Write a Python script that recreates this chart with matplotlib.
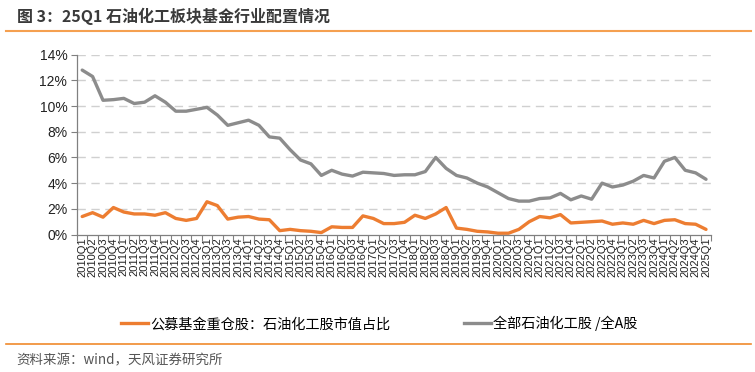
import numpy as np
import matplotlib.pyplot as plt
from matplotlib.lines import Line2D

plt.rcParams['font.family'] = ['Noto Sans CJK SC', 'DejaVu Sans']

quarters = [f"{y}Q{q}" for y in range(2010, 2025) for q in range(1, 5)] + ["2025Q1"]

# 公募基金重仓股：石油化工股市值占比 (%)
fund_share = [1.4, 1.7, 1.35, 2.1, 1.75, 1.6, 1.6, 1.5, 1.7, 1.25,
              1.1, 1.25, 2.55, 2.25, 1.2, 1.35, 1.4, 1.2, 1.15, 0.3,
              0.4, 0.3, 0.25, 0.15, 0.6, 0.55, 0.55, 1.45, 1.25, 0.85,
              0.85, 0.95, 1.5, 1.25, 1.6, 2.1, 0.5, 0.4, 0.25, 0.2,
              0.1, 0.1, 0.4, 1.0, 1.4, 1.3, 1.55, 0.9, 0.95, 1.0,
              1.05, 0.8, 0.9, 0.8, 1.1, 0.85, 1.1, 1.15, 0.85, 0.8,
              0.4]

# 全部石油化工股/全A股 (%)
market_share = [12.8, 12.3, 10.45, 10.5, 10.6, 10.2, 10.3, 10.8, 10.3, 9.6,
                9.6, 9.75, 9.9, 9.3, 8.5, 8.7, 8.9, 8.5, 7.6, 7.5,
                6.6, 5.8, 5.5, 4.6, 5.0, 4.7, 4.55, 4.85, 4.8, 4.75,
                4.6, 4.65, 4.65, 4.9, 6.0, 5.15, 4.6, 4.4, 4.0, 3.7,
                3.25, 2.8, 2.6, 2.6, 2.8, 2.85, 3.2, 2.7, 3.0, 2.75,
                4.0, 3.7, 3.85, 4.15, 4.6, 4.4, 5.7, 6.0, 5.0, 4.8,
                4.3]

orange = '#ED7D31'
gray = '#8C8C8C'

fig = plt.figure(figsize=(7.55, 3.72), dpi=100)
ax = fig.add_axes([0.102, 0.3696, 0.84, 0.4834])

x = np.arange(len(quarters))
ax.plot(x, market_share, color=gray, lw=2.4, solid_joinstyle='round', solid_capstyle='round')
ax.plot(x, fund_share, color=orange, lw=2.4, solid_joinstyle='round', solid_capstyle='round')

ax.set_xlim(-0.5, len(quarters) - 0.5)
ax.set_ylim(0, 14)
ax.set_yticks(np.arange(0, 15, 2))
ax.set_yticklabels([f"{v}%" for v in range(0, 15, 2)], family='Liberation Sans', fontsize=10, color='#222222')
ax.set_xticks(x)
ax.set_xticklabels(quarters, rotation=90, family='Liberation Sans', fontsize=8, color='#222222')
ax.tick_params(axis='x', length=0, pad=2)
ax.set_xticks(np.arange(-0.5, len(quarters)), minor=True)
ax.tick_params(axis='x', which='minor', length=4, color='#808080', width=0.8)
ax.tick_params(axis='y', length=4, color='#808080', width=0.8, pad=3)

for v in range(2, 15, 2):
    ax.axhline(v, color='#D0D0D0', lw=1, ls=(0, (6, 4)), zorder=0)

for s in ['top', 'right']:
    ax.spines[s].set_visible(False)
for s in ['left', 'bottom']:
    ax.spines[s].set_color('#808080')
    ax.spines[s].set_linewidth(0.9)

# title and rules
fig.text(0.022, 0.955, "图 3：25Q1 石油化工板块基金行业配置情况", fontsize=11.5, fontweight='bold',
         color='#3A3A3A', va='center', ha='left')
fig.add_artist(Line2D([0.008, 0.995], [0.917, 0.917], color='#F5A050', lw=1.5))
fig.add_artist(Line2D([0.008, 0.995], [0.075, 0.075], color='#F08A2C', lw=1.2))
fig.text(0.022, 0.032, "资料来源：wind，天风证券研究所", fontsize=9.7, color='#555555', va='center', ha='left')

# legend
handles = [Line2D([], [], color=orange, lw=2.4), Line2D([], [], color=gray, lw=2.4)]
fig.legend(handles, ["公募基金重仓股：石油化工股市值占比", "全部石油化工股 /全A股"],
           loc='center', bbox_to_anchor=(0.502, 0.13), ncol=2, frameon=False,
           fontsize=10.2, handlelength=1.9, handletextpad=0.15, columnspacing=5.2)

fig.savefig('out.png', dpi=100)
